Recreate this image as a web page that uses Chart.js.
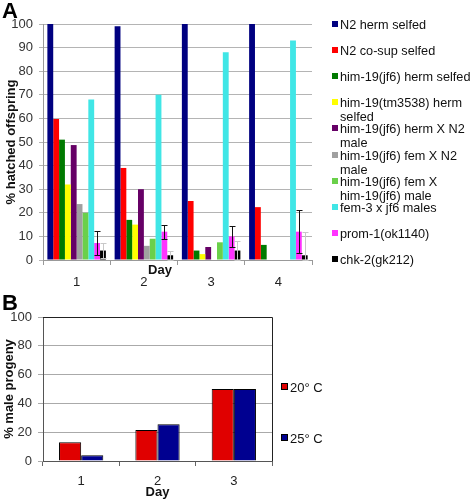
<!DOCTYPE html>
<html>
<head>
<meta charset="utf-8">
<script src="https://cdn.jsdelivr.net/npm/chart.js@4.4.0/dist/chart.umd.min.js"></script>
<style>
  html, body { margin: 0; padding: 0; background: #fff; }
  #wrap { position: relative; width: 472px; height: 500px; font-family: "Liberation Sans", Arial, sans-serif; }
  canvas { position: absolute; left: 0; }
  #chartA { top: 0; }
  #chartB { top: 290px; }
  .panel { position: absolute; left: 2px; font-weight: bold; font-size: 22px; line-height: 1; color: #000; }
</style>
</head>
<body>
<div id="wrap">
  <canvas id="chartA" width="472" height="290"></canvas>
  <canvas id="chartB" width="472" height="210"></canvas>
  <div class="panel" style="top:0px">A</div>
  <div class="panel" style="top:292px">B</div>
</div>
<script>
// ---- Panel A data: % hatched offspring per day ----
const days = ['1', '2', '3', '4'];
const n2Herm = [100, 99, 100, 100];
const n2CoSup = [59.7, 39, 25, 22.4];
const jf6Herm = [51, 17, 4, 6.4];
const tm3538Herm = [32, 15, 2.5, 0];
const jf6HermXN2 = [48.7, 30, 5.5, 0];
const jf6FemXN2 = [23.7, 6, 0, 0];
const jf6FemXjf6 = [20, 9, 7.5, 0];
const fem3Xjf6 = [68, 70, 88, 93];
const prom1 = [7.2, 12, 10, 12];
const prom1Err = [5, 3, 4.3, 9];
const chk2 = [4, 2, 4, 2];
const chk2Err = [3, 2, 4, 10];
const seriesNames = [
  ['N2 herm selfed'],
  ['N2 co-sup selfed'],
  ['him-19(jf6) herm selfed'],
  ['him-19(tm3538) herm', 'selfed'],
  ['him-19(jf6) herm X N2', 'male'],
  ['him-19(jf6) fem X N2', 'male'],
  ['him-19(jf6) fem X', 'him-19(jf6) male'],
  ['fem-3 x jf6 males'],
  ['prom-1(ok1140)'],
  ['chk-2(gk212)'],
];

// ---- Panel B data: % male progeny per day ----
const daysB = ['1', '2', '3'];
const temp20 = [13, 21.5, 50];
const temp25 = [4, 25.5, 50];
const tempNames = [['20° C'], ['25° C']];

const FONT = '"Liberation Sans", Arial, sans-serif';
Chart.defaults.font.family = FONT;
Chart.defaults.font.size = 13;
Chart.defaults.color = '#222';

/** vertical error bars from ds.err, drawn through the y scale */
const errorBars = {
  id: 'errorBars',
  afterDatasetsDraw(chart) {
    const { ctx, scales: { y } } = chart;
    chart.data.datasets.forEach((ds, i) => {
      if (!ds.err) return;
      const meta = chart.getDatasetMeta(i);
      ctx.save();
      ctx.strokeStyle = ds.errColor;
      ctx.lineWidth = 1;
      meta.data.forEach((bar, j) => {
        const v = ds.data[j], e = ds.err[j];
        const top = Math.round(y.getPixelForValue(v + e)) + 0.5;
        const bot = Math.round(y.getPixelForValue(Math.max(v - e, 0))) + 0.5;
        const x = Math.round(bar.x) + 0.5;
        ctx.beginPath();
        ctx.moveTo(x, top); ctx.lineTo(x, bot);
        ctx.moveTo(x - 3, top); ctx.lineTo(x + 3, top);
        ctx.moveTo(x - 3, bot); ctx.lineTo(x + 3, bot);
        ctx.stroke();
      });
      ctx.restore();
    });
  }
};

/** legend to the right of the plot with fixed row spacing (lines may overflow) */
const sideLegend = {
  id: 'sideLegend',
  afterDraw(chart, args, opts) {
    const { ctx, chartArea } = chart;
    const n = chart.data.datasets.length;
    const step = opts.step || (chartArea.bottom - chartArea.top - opts.offset) / (n - 1);
    ctx.save();
    ctx.font = opts.fontSize + 'px ' + FONT;
    ctx.textBaseline = 'middle';
    chart.data.datasets.forEach((ds, i) => {
      const y = Math.round(chartArea.top + opts.offset + i * step);
      const x = Math.round(chartArea.right + opts.gap);
      ctx.fillStyle = ds.backgroundColor;
      ctx.fillRect(x, y - opts.box + 2, opts.box, opts.box);
      if (opts.boxBorder) {
        ctx.strokeStyle = '#000';
        ctx.lineWidth = 1;
        ctx.strokeRect(x + 0.5, y - opts.box + 2.5, opts.box - 1, opts.box - 1);
      }
      ctx.fillStyle = '#111';
      ds.legendLines.forEach((t, k) => ctx.fillText(t, x + opts.box + opts.textGap, y + k * 14));
    });
    ctx.restore();
  }
};

/** "Day" title of panel A sits between axis and tick labels */
const dayLabel = {
  id: 'dayLabel',
  afterDraw(chart, args, opts) {
    const { ctx, chartArea } = chart;
    ctx.save();
    ctx.font = 'bold 13px ' + FONT;
    ctx.fillStyle = '#111';
    ctx.textAlign = 'center';
    ctx.textBaseline = 'middle';
    ctx.fillText(opts.text, chartArea.left + opts.dx, chartArea.bottom + opts.dy);
    ctx.restore();
  }
};

/** black frame on top/right of the plot (panel B) */
const frame = {
  id: 'frame',
  afterDraw(chart) {
    const { ctx, chartArea: a } = chart;
    ctx.save();
    ctx.strokeStyle = '#222';
    ctx.lineWidth = 1;
    ctx.beginPath();
    ctx.moveTo(Math.round(a.left), Math.round(a.top) + 0.5);
    ctx.lineTo(Math.round(a.right) + 0.5, Math.round(a.top) + 0.5);
    ctx.lineTo(Math.round(a.right) + 0.5, Math.round(a.bottom));
    ctx.stroke();
    ctx.restore();
  }
};

const colorsA = ['#000080', '#ff0000', '#007a00', '#ffff00', '#660066',
                 '#a0a0a0', '#6ad04a', '#40e6e6', '#ff33ff', '#000000'];
const valuesA = [n2Herm, n2CoSup, jf6Herm, tm3538Herm, jf6HermXN2,
                 jf6FemXN2, jf6FemXjf6, fem3Xjf6, prom1, chk2];

const datasetsA = valuesA.map((data, i) => ({
  label: seriesNames[i].join(' '),
  legendLines: seriesNames[i],
  data,
  backgroundColor: colorsA[i],
  borderWidth: 0,
  barPercentage: 1,
  categoryPercentage: 0.87,
}));
datasetsA[8].err = prom1Err;
datasetsA[8].errColor = '#111';
datasetsA[9].err = chk2Err;
datasetsA[9].errColor = '#c8c8c8';

new Chart(document.getElementById('chartA'), {
  type: 'bar',
  data: { labels: days, datasets: datasetsA },
  plugins: [errorBars, sideLegend, dayLabel],
  options: {
    responsive: false,
    animation: false,
    layout: { padding: { top: 24, right: 160, left: 0, bottom: 0 } },
    plugins: {
      legend: { display: false },
      tooltip: { enabled: false },
      sideLegend: { gap: 20, box: 6, offset: 1, textGap: 2, fontSize: 12.7 },
      dayLabel: { text: 'Day', dx: 117, dy: 10 },
    },
    scales: {
      x: {
        grid: { offset: true, drawOnChartArea: false, tickLength: 5, color: '#999' },
        border: { color: '#999' },
        ticks: { padding: 10, color: '#222', font: { size: 13 } },
        afterFit(scale) { scale.height = 30; },
      },
      y: {
        min: 0, max: 100,
        ticks: { stepSize: 10, padding: 6, color: '#333', font: { size: 13 } },
        grid: { color: '#b4b4b4', tickLength: 4 },
        border: { color: '#999' },
        title: { display: true, text: '% hatched offspring', font: { size: 13, weight: 'bold' }, color: '#111', padding: { top: 4, bottom: 0 } },
        afterFit(scale) { scale.width = 43; },
      },
    },
  },
});

new Chart(document.getElementById('chartB'), {
  type: 'bar',
  data: {
    labels: daysB,
    datasets: [
      { label: tempNames[0].join(' '), legendLines: tempNames[0], data: temp20, backgroundColor: '#e00000',
        borderColor: '#000', borderWidth: 1, barPercentage: 1, categoryPercentage: 0.58 },
      { label: tempNames[1].join(' '), legendLines: tempNames[1], data: temp25, backgroundColor: '#000090',
        borderColor: '#000', borderWidth: 1, barPercentage: 1, categoryPercentage: 0.58 },
    ],
  },
  plugins: [sideLegend, frame],
  options: {
    responsive: false,
    animation: false,
    layout: { padding: { top: 27, right: 200, left: 0, bottom: 0 } },
    plugins: {
      legend: { display: false },
      tooltip: { enabled: false },
      sideLegend: { gap: 9, box: 7, offset: 71, step: 51, boxBorder: true, textGap: 2, fontSize: 13 },
    },
    scales: {
      x: {
        grid: { offset: true, drawOnChartArea: false, tickLength: 5, color: '#666' },
        border: { color: '#555' },
        ticks: { padding: 8, color: '#222', font: { size: 13 } },
        title: { display: true, text: 'Day', font: { size: 13, weight: 'bold' }, color: '#111', padding: { top: 0, bottom: 0 } },
        afterFit(scale) { scale.height = 39; },
      },
      y: {
        min: 0, max: 100,
        ticks: { stepSize: 20, padding: 6, color: '#333', font: { size: 13 } },
        grid: { color: '#aaa', tickLength: 5 },
        border: { color: '#555' },
        title: { display: true, text: '% male progeny', font: { size: 13, weight: 'bold' }, color: '#111', padding: { top: 2, bottom: 0 } },
        afterFit(scale) { scale.width = 43; },
      },
    },
  },
});
</script>
</body>
</html>
